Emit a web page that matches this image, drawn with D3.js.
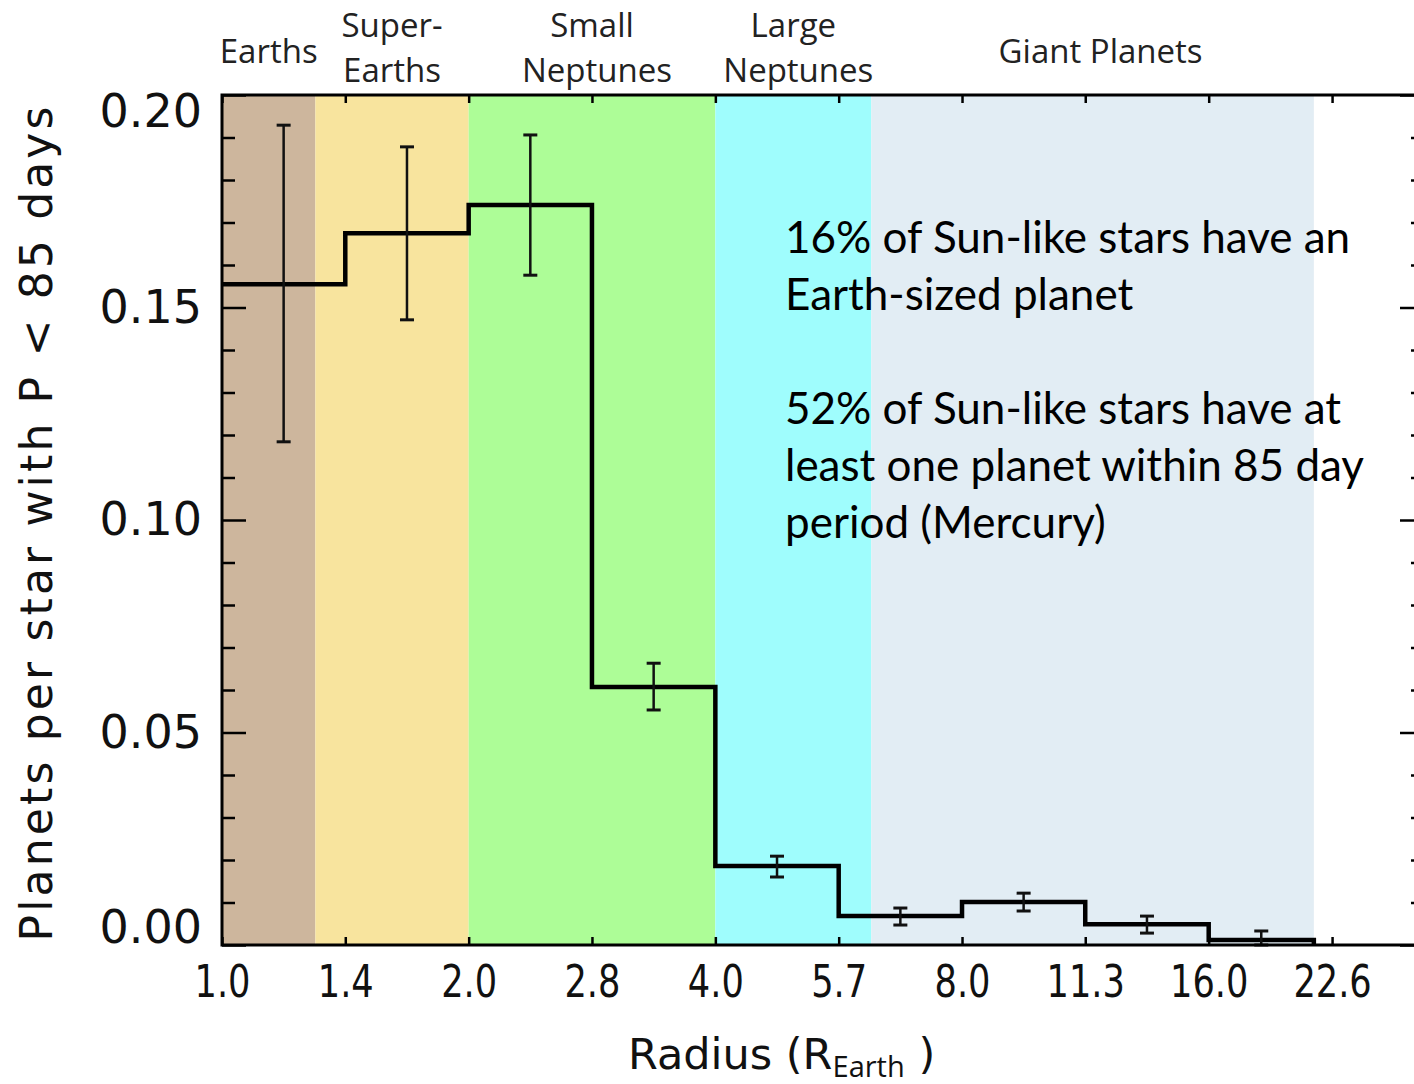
<!DOCTYPE html>
<html>
<head>
<meta charset="utf-8">
<script src="https://cdn.jsdelivr.net/npm/d3@7"></script>
<style>
  html, body { margin: 0; padding: 0; background: #fff; }
  svg { display: block; }
</style>
</head>
<body>
<svg id="chart" width="1414" height="1084"></svg>
<script>
// Occurrence rate of planets per star (P < 85 d) in radius bins
const binEdges = [1.0, 1.414, 2.0, 2.828, 4.0, 5.657, 8.0, 11.31, 16.0, 21.5];
const rate     = [0.1555, 0.1675, 0.1741, 0.0607, 0.0186, 0.0068, 0.0101, 0.0049, 0.0012];
const errLow   = [0.1184, 0.1471, 0.1576, 0.0553, 0.0160, 0.0047, 0.0080, 0.0028, 0.0000];
const errHigh  = [0.1929, 0.1878, 0.1906, 0.0663, 0.0209, 0.0087, 0.0122, 0.0068, 0.0033];

// Planet size classes (radius limits in Earth radii)
const classNames  = ["Earths", "Super-Earths", "Small Neptunes", "Large Neptunes", "Giant Planets"];
const classLabels = [["Earths"], ["Super-", "Earths"], ["Small", "Neptunes"], ["Large", "Neptunes"], ["Giant Planets"]];
const classEdges  = [1.0, 1.3, 2.0, 4.0, 6.2, 21.5];

// Axis ticks
const xTickValues = [1.0, 1.414, 2.0, 2.828, 4.0, 5.657, 8.0, 11.31, 16.0, 22.63];
const xTickLabels = ["1.0", "1.4", "2.0", "2.8", "4.0", "5.7", "8.0", "11.3", "16.0", "22.6"];
const yTickValues = [0.00, 0.05, 0.10, 0.15, 0.20];
const yTickLabels = ["0.00", "0.05", "0.10", "0.15", "0.20"];

// Annotation text
const noteLines = [
  "16% of Sun-like stars have an",
  "Earth-sized planet",
  "",
  "52% of Sun-like stars have at",
  "least one planet within 85 day",
  "period (Mercury)"
];

const svg = d3.select("#chart");
svg.append("rect").attr("width", 1414).attr("height", 1084).attr("fill", "#fff");

const pL = 222, pR = 1424, pT = 95, pB = 945;
const x = d3.scaleLog().base(2).domain([1, 29.3]).range([pL, pR]);
const y = d3.scaleLinear().domain([0, 0.2]).range([pB, pT]);

const classFill = d3.scaleOrdinal()
  .domain(classNames)
  .range(["#cdb69d", "#f8e49e", "#adfd97", "#9ffdfd", "#e2edf4"]);

const classes = classNames.map((name, i) => ({
  name, lines: classLabels[i], r0: classEdges[i], r1: classEdges[i + 1]
}));

// Coloured size-class bands
svg.append("g").selectAll("rect")
  .data(classes)
  .join("rect")
  .attr("x", d => x(d.r0))
  .attr("y", pT)
  .attr("width", d => x(d.r1) - x(d.r0))
  .attr("height", pB - pT)
  .attr("fill", d => classFill(d.name));

// Class labels above the frame
const lab = svg.append("g")
  .attr("font-family", "'Open Sans', 'Noto Sans', sans-serif")
  .attr("font-size", 33)
  .attr("fill", "#222");
classes.forEach(d => {
  const cx = x(Math.sqrt(d.r0 * d.r1));
  const baselines = d.lines.length === 1 ? [63] : [37, 82];
  d.lines.forEach((t, j) => {
    lab.append("text")
      .attr("x", cx + (d.lines.length === 1 && d.name !== "Earths" ? 8 : (j === 1 && d.name.endsWith("Neptunes") ? 5 : 0)))
      .attr("y", baselines[j])
      .attr("text-anchor", "middle")
      .text(t);
  });
});

// Axes (ticks point inward)
const tickStroke = g => g.selectAll(".tick line").attr("stroke", "#000").attr("stroke-width", 2.5);

const xBottom = svg.append("g")
  .attr("transform", `translate(0,${pB})`)
  .call(d3.axisBottom(x).tickValues(xTickValues).tickSize(-8).tickPadding(21)
    .tickFormat((d, i) => xTickLabels[i]));
xBottom.select(".domain").remove();
tickStroke(xBottom);
xBottom.selectAll("text")
  .attr("font-family", "'DejaVu Sans', sans-serif")
  .attr("font-size", 44)
  .attr("fill", "#111")
  .attr("transform", "scale(0.8,1)");

const xTop = svg.append("g")
  .attr("transform", `translate(0,${pT})`)
  .call(d3.axisTop(x).tickValues(xTickValues).tickSize(-8).tickFormat(""));
xTop.select(".domain").remove();
tickStroke(xTop);

function yAxes(axisGen, xpos, labels) {
  const minor = svg.append("g")
    .attr("transform", `translate(${xpos},0)`)
    .call(axisGen(y).tickValues(y.ticks(20).filter(v => Math.abs(v * 20 - Math.round(v * 20)) > 1e-6))
      .tickSize(-13).tickFormat(""));
  minor.select(".domain").remove();
  tickStroke(minor);
  const major = svg.append("g")
    .attr("transform", `translate(${xpos},0)`)
    .call(axisGen(y).tickValues(yTickValues).tickSize(-24).tickPadding(20)
      .tickFormat((d, i) => labels ? yTickLabels[i] : ""));
  major.select(".domain").remove();
  tickStroke(major);
  return major;
}
const yLeft = yAxes(d3.axisLeft, pL, true);
yLeft.selectAll("text")
  .attr("font-family", "'DejaVu Sans', sans-serif")
  .attr("font-size", 46)
  .attr("fill", "#111")
  .attr("y", d => {
    const p = y(d);
    const c = Math.min(Math.max(p, pT + 17), pB - 17);
    return c - p;
  });
yAxes(d3.axisRight, pR, false);

// Histogram (step outline)
const stepPts = [];
rate.forEach((v, i) => {
  stepPts.push([binEdges[i], v], [binEdges[i + 1], v]);
});
stepPts.push([binEdges[binEdges.length - 1], 0]);
svg.append("path")
  .attr("d", d3.line().x(d => x(d[0])).y(d => y(d[1]))(stepPts))
  .attr("fill", "none")
  .attr("stroke", "#000")
  .attr("stroke-width", 4.5)
  .attr("stroke-linejoin", "miter");

// Error bars at the logarithmic bin centres
const bars = rate.map((v, i) => ({
  r: Math.sqrt(binEdges[i] * binEdges[i + 1]), lo: errLow[i], hi: errHigh[i]
}));
const eb = svg.append("g").attr("stroke", "#111");
eb.selectAll("line.v").data(bars).join("line").attr("class", "v")
  .attr("x1", d => x(d.r)).attr("x2", d => x(d.r))
  .attr("y1", d => y(d.lo)).attr("y2", d => y(d.hi))
  .attr("stroke-width", 2.5);
["lo", "hi"].forEach(k => {
  eb.selectAll("line." + k).data(bars).join("line").attr("class", k)
    .attr("x1", d => x(d.r) - 7).attr("x2", d => x(d.r) + 7)
    .attr("y1", d => y(d[k])).attr("y2", d => y(d[k]))
    .attr("stroke-width", 3);
});

// Plot frame
svg.append("rect")
  .attr("x", pL).attr("y", pT)
  .attr("width", pR - pL).attr("height", pB - pT)
  .attr("fill", "none").attr("stroke", "#000").attr("stroke-width", 3);

// Axis titles
svg.append("text")
  .attr("transform", "translate(52,524) rotate(-90)")
  .attr("text-anchor", "middle")
  .attr("font-family", "'DejaVu Sans', sans-serif")
  .attr("font-size", 44)
  .attr("fill", "#111")
  .attr("textLength", 835)
  .attr("lengthAdjust", "spacing")
  .text("Planets per star with P < 85 days");

const xt = svg.append("text")
  .attr("x", 628).attr("y", 1069)
  .attr("font-family", "'DejaVu Sans', sans-serif")
  .attr("font-size", 43)
  .attr("fill", "#111");
xt.append("tspan").text("Radius (R");
xt.append("tspan")
  .attr("font-family", "'Open Sans', 'Noto Sans', sans-serif")
  .attr("font-size", 29)
  .attr("dy", 8)
  .text("Earth");
xt.append("tspan").attr("dy", -8).text(" )");

// Annotation
const note = svg.append("text")
  .attr("font-family", "Lato, 'Open Sans', sans-serif")
  .attr("font-size", 44)
  .attr("fill", "#000");
noteLines.forEach((t, i) => {
  note.append("tspan").attr("x", 785).attr("y", 253 + i * 57).text(t);
});
</script>
</body>
</html>
